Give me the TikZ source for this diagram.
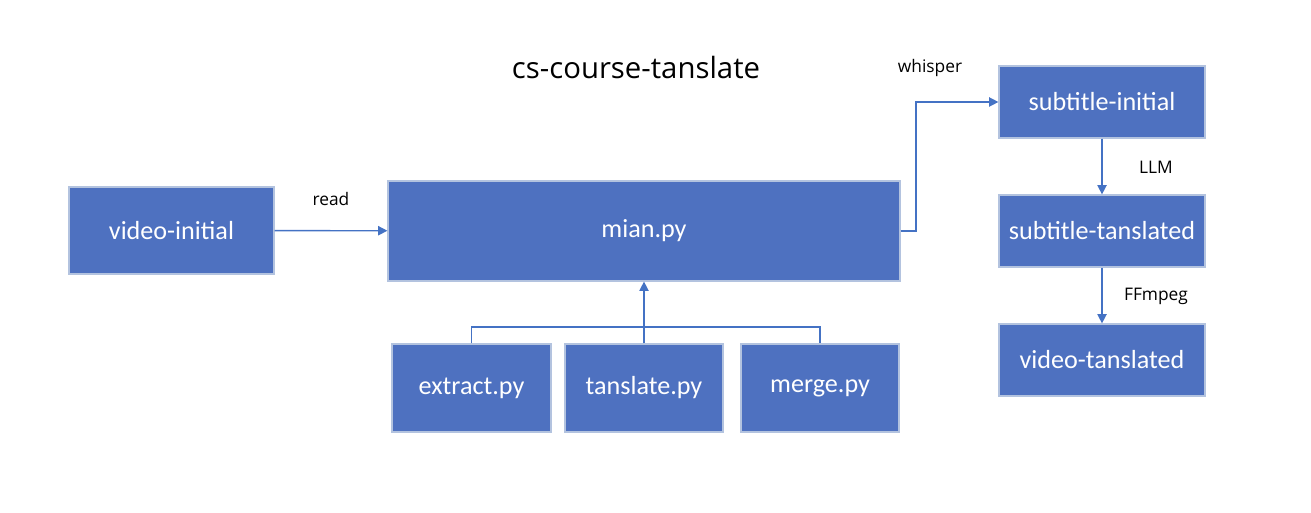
\documentclass[tikz,border=0pt]{standalone}
\usepackage{fontspec}
\setmainfont{Carlito}
\newfontfamily\labelfont{Open Sans}
\usetikzlibrary{arrows.meta}
\definecolor{boxblue}{HTML}{4E71C0}
\definecolor{boxedge}{HTML}{B3C3DF}
\definecolor{lineblue}{HTML}{4472C4}
\tikzset{blkbox/.style 2 args={draw=boxedge,line width=0.9pt,fill=boxblue,
    text=white,font=\fontsize{19.6}{22}\selectfont,inner sep=0pt,
    minimum width=#1*0.75pt,minimum height=#2*0.75pt}}
\tikzset{flowline/.style={draw=lineblue,line width=1pt}}
\tikzset{flowarrow/.style={flowline,-{Triangle[length=7pt,width=7pt]}}}
\tikzset{flowlabel/.style={font=\labelfont\fontsize{13}{15}\selectfont,inner sep=0pt}}

\begin{document}
\begin{tikzpicture}[x=0.75pt,y=-0.75pt]

\useasboundingbox (0,0) rectangle (1311,513);

%   タイトル
\node[font=\labelfont\fontsize{22}{26}\selectfont] (title) at (636,68) {cs-course-tanslate};

%   左の箱
\node[blkbox={205}{87}] (vinit) at (171.5,230.5) {video-initial};
\node[blkbox={512}{100}] (mian) at (644,231) {mian.py};

%   下の三つ
\node[blkbox={159}{88}] (extract) at (471.5,388) {extract.py};
\node[blkbox={158}{88}] (tansl) at (644,388) {tanslate.py};
\node[blkbox={158}{88}] (merge) at (820,388) {merge.py};

%   右の列
\node[blkbox={206}{72}] (subinit) at (1102,102) {subtitle-initial};
\node[blkbox={206}{72}] (subtrans) at (1102,231) {subtitle-tanslated};
\node[blkbox={206}{72}] (vtrans) at (1102,360) {video-tanslated};

%   接続線
\coordinate (bus) at (644,327);
\coordinate (turn) at (916,231);
\draw[flowarrow] (vinit) -- (mian);
\draw[flowarrow] (mian.east) -- (turn) |- (subinit.west);
\draw[flowarrow] (subinit) -- (subtrans);
\draw[flowarrow] (subtrans) -- (vtrans);
\draw[flowline] (extract.north) |- (bus) -| (merge.north);
\draw[flowarrow] (tansl.north) -- (mian.south);

%   ラベル
\node[flowlabel] (lread) at (331,199) {read};
\node[flowlabel] (lwhisper) at (930,68) {whisper};
\node[flowlabel] (lllm) at (1156,167) {LLM};
\node[flowlabel] (lffmpeg) at (1156,296) {FFmpeg};

\end{tikzpicture}
\end{document}
